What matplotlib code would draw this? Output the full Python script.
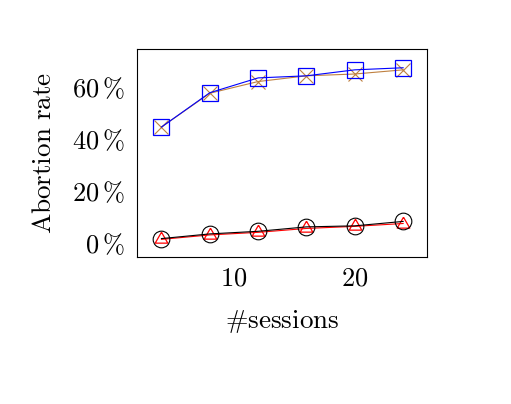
import matplotlib
matplotlib.use("Agg")
import matplotlib.pyplot as plt

sessions = [4, 8, 12, 16, 20, 24]
blue_sq = [44.8, 58.0, 63.7, 64.5, 66.8, 67.6]
brown_x = [44.8, 57.8, 62.3, 64.5, 65.2, 66.8]
red_tri = [1.6, 3.3, 4.3, 5.8, 6.6, 7.7]
black_circ = [1.9, 3.7, 4.7, 6.4, 6.8, 8.5]
xticks = [10, 20]
yticks = [0, 20, 40, 60]

plt.rcParams['mathtext.fontset'] = 'cm'

fig = plt.figure(figsize=(5.11, 4.04), dpi=100)
ax = fig.add_axes([137.3/511, 1-257.3/404, 290/511, 208/404])

tri = [(0, 1), (-0.866, -0.5), (0.866, -0.5), (0, 1)]

lw = 0.8
ax.plot(sessions, brown_x, color='#bf8040', lw=lw, marker='x', ms=9.5, mew=0.8)
ax.plot(sessions, blue_sq, color='blue', lw=lw, marker='s', ms=11.5, mfc='none', mew=0.9)
ax.plot(sessions, red_tri, color='red', lw=lw, marker=tri, ms=10.5, mfc='none', mew=0.9)
ax.plot(sessions, black_circ, color='black', lw=lw, marker='o', ms=12, mfc='none', mew=0.8)

ax.set_xlim(2, 26)
ax.set_ylim(-5.3, 74.7)
ax.set_xticks(xticks)
ax.set_xticklabels([r'$%d$' % t for t in xticks])
ax.set_yticks(yticks)
ax.set_yticklabels([r'$%d\,\%%$' % t for t in yticks])
ax.tick_params(length=0, labelsize=19)
ax.tick_params(axis='y', pad=9)
ax.tick_params(axis='x', pad=6)
for s in ax.spines.values():
    s.set_linewidth(0.8)

ax.set_xlabel(r'$\#\mathrm{sessions}$', fontsize=19.5, labelpad=12)
ax.set_ylabel(r'$\mathrm{Abortion\ rate}$', fontsize=19.5, labelpad=11)

fig.savefig('out.png', dpi=100)
